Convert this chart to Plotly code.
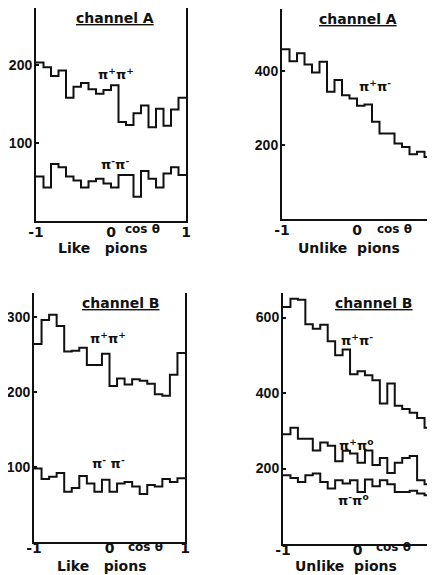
import plotly.graph_objects as go

# bin edges in cos(theta)
COS_EDGES = [-1.0, -0.9, -0.8, -0.7, -0.6, -0.5, -0.4, -0.3, -0.2, -0.1, 0.0,
             0.1, 0.2, 0.3, 0.4, 0.5, 0.6, 0.7, 0.8, 0.9, 1.0]

# channel A, like pions
A_PIPPIP = [203, 197, 186, 193, 158, 172, 177, 169, 163, 168,
            174, 127, 123, 138, 148, 120, 144, 122, 143, 158]
A_PIMPIM = [57, 43, 73, 69, 57, 52, 43, 51, 54, 48,
            43, 59, 59, 31, 64, 54, 43, 61, 69, 59]
# channel A, unlike pions
A_PIPPIM = [459, 427, 448, 418, 396, 425, 344, 376, 335, 326,
            306, 310, 263, 231, 231, 204, 195, 175, 182, 168]
# channel B, like pions
B_PIPPIP = [264, 296, 303, 288, 254, 255, 259, 236, 236, 251,
            208, 218, 210, 217, 215, 211, 197, 195, 223, 252]
B_PIMPIM = [98, 84, 87, 92, 67, 72, 88, 78, 67, 83,
            67, 78, 80, 74, 64, 76, 74, 84, 80, 85]
# channel B, unlike pions
B_PIPPIM = [628, 650, 647, 582, 570, 581, 537, 500, 515, 450,
            458, 447, 434, 372, 425, 366, 358, 348, 334, 308]
B_PIPPI0 = [291, 308, 279, 279, 248, 269, 260, 219, 247, 240,
            215, 248, 209, 228, 188, 215, 228, 233, 169, 158]
B_PIMPI0 = [182, 175, 164, 182, 187, 164, 147, 169, 160, 169,
            138, 171, 153, 169, 158, 138, 138, 141, 134, 129]

Y_TICKS_A_LIKE = [100, 200]
Y_TICKS_A_UNLIKE = [200, 400]
Y_TICKS_B_LIKE = [100, 200, 300]
Y_TICKS_B_UNLIKE = [200, 400, 600]
X_TICKS = [-1, 0, 1]
X_TICK_TEXT = ["-1", "0", "1"]

PAGE_OFF = 8          # body margin of the html page
W, H = 435 - PAGE_OFF, 575 - PAGE_OFF
FONT = "DejaVu Sans"
TICK_FONT = "Liberation Sans"
INK = "#111111"


def px_x(p):
    return min(1.0, max(0.0, (p - PAGE_OFF) / W))


def px_y(p):
    return min(1.0, max(0.0, 1 - (p - PAGE_OFF) / H))


panels = [
    dict(x=(36, 186), y=(8, 221), ymax=273, yticks=Y_TICKS_A_LIKE,
         series=[A_PIPPIP, A_PIMPIM], xstand=-3),
    dict(x=(282, 432), y=(9, 219), ymax=568, yticks=Y_TICKS_A_UNLIKE,
         series=[A_PIPPIM], xstand=-3),
    dict(x=(34, 185), y=(293, 542), ymax=332, yticks=Y_TICKS_B_LIKE,
         series=[B_PIPPIP, B_PIMPIM], xstand=-8),
    dict(x=(283, 432), y=(293, 544), ymax=665, yticks=Y_TICKS_B_UNLIKE,
         series=[B_PIPPIM, B_PIPPI0, B_PIMPI0], xstand=-8),
]

fig = go.Figure()
layout = {}
for i, p in enumerate(panels, start=1):
    xa = "x" if i == 1 else f"x{i}"
    ya = "y" if i == 1 else f"y{i}"
    for vals in p["series"]:
        fig.add_trace(go.Scatter(
            x=COS_EDGES, y=list(vals) + [vals[-1]], mode="lines",
            line=dict(shape="hv", color=INK, width=2),
            xaxis=xa, yaxis=ya, showlegend=False, hoverinfo="skip"))
    layout["xaxis" if i == 1 else f"xaxis{i}"] = dict(
        domain=[px_x(p["x"][0]), px_x(p["x"][1])], range=[-1, 1],
        anchor=ya, showgrid=False, zeroline=False, showline=True,
        automargin=False,
        linecolor=INK, linewidth=2, ticks="", tickvals=X_TICKS,
        ticktext=X_TICK_TEXT, ticklabelstandoff=p["xstand"],
        tickfont=dict(family=FONT, size=14, color=INK, weight="bold"))
    layout["yaxis" if i == 1 else f"yaxis{i}"] = dict(
        domain=[px_y(p["y"][1]), px_y(p["y"][0])], range=[0, p["ymax"]],
        anchor=xa, showgrid=False, zeroline=False, showline=True,
        automargin=False,
        mirror=True, linecolor=INK, linewidth=2, ticks="inside",
        ticklen=3, tickwidth=2, tickcolor=INK, tickvals=p["yticks"],
        ticklabelstandoff=-1,
        tickfont=dict(family=TICK_FONT, size=14, color=INK, weight="bold"))

fig.update_layout(width=W, height=H, margin=dict(l=0, r=0, t=0, b=0),
                  paper_bgcolor="white", plot_bgcolor="white", **layout)


def note(text, x, y, size=14):
    fig.add_annotation(text=text, x=px_x(x), y=px_y(y), xref="paper",
                       yref="paper", showarrow=False, xanchor="center",
                       yanchor="middle",
                       font=dict(family=FONT, size=size, color=INK,
                                 weight="bold"))


# titles
note("<u>channel A</u>", 115, 18, 14)
note("<u>channel A</u>", 358, 19, 14)
note("<u>channel B</u>", 121, 303, 14)
note("<u>channel B</u>", 374, 303, 14)
# footers
note("Like   pions", 103, 248, 14)
note("Unlike  pions", 349, 248, 14)
note("Like   pions", 102, 566, 14)
note("Unlike  pions", 346, 566, 14)
# cos theta
note("cos θ", 142, 229, 12)
note("cos θ", 394, 229, 12)
note("cos θ", 145, 547, 12)
note("cos θ", 393, 547, 12)
# series labels
note("π<sup>+</sup>π<sup>+</sup>", 116, 74, 13)
note("π<sup>-</sup>π<sup>-</sup>", 115, 164, 13)
note("π<sup>+</sup>π<sup>-</sup>", 375, 86, 13)
note("π<sup>+</sup>π<sup>+</sup>", 108, 338, 13)
note("π<sup>-</sup> π<sup>-</sup>", 108, 463, 13)
note("π<sup>+</sup>π<sup>-</sup>", 357, 340, 13)
note("π<sup>+</sup>π<sup>o</sup>", 356, 445, 13)
note("π<sup>-</sup>π<sup>o</sup>", 353, 500, 13)

fig.write_html("out.html")
